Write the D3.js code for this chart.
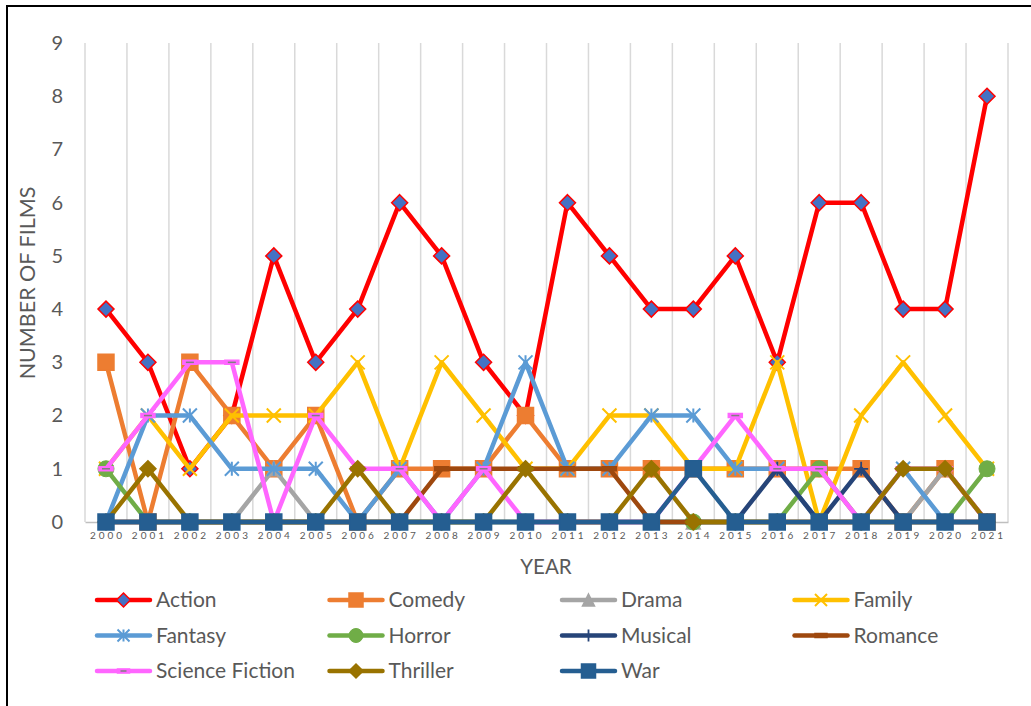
<!DOCTYPE html>
<html>
<head>
<meta charset="utf-8">
<script src="https://cdn.jsdelivr.net/npm/d3@7"></script>
<style>
  body { margin: 0; background: #fff; }
  text { font-family: Lato, "Open Sans", sans-serif; fill: #595959; }
</style>
</head>
<body>
<div id="chart"></div>
<script>
const W = 1031, H = 706;

// data
const years = d3.range(2000, 2022).map(String);
const yTicks = [0, 1, 2, 3, 4, 5, 6, 7, 8, 9];
const action   = [4,3,1,2,5,3,4,6,5,3,2,6,5,4,4,5,3,6,6,4,4,8];
const comedy   = [3,0,3,2,1,2,0,1,1,1,2,1,1,1,1,1,1,1,1,0,1,0];
const drama    = [0,0,0,0,1,0,0,0,0,0,0,0,0,0,0,0,0,0,0,0,1,0];
const family   = [1,2,1,2,2,2,3,1,3,2,1,1,2,2,1,1,3,0,2,3,2,1];
const fantasy  = [0,2,2,1,1,1,0,1,0,1,3,1,1,2,2,1,1,0,0,1,0,0];
const horror   = [1,0,0,0,0,0,0,0,0,0,0,0,0,0,0,0,0,1,0,0,0,1];
const musical  = [0,0,0,0,0,0,0,0,0,0,0,0,0,0,0,0,1,0,1,0,0,0];
const romance  = [0,0,0,0,0,0,0,0,1,1,1,1,1,0,0,0,0,0,0,0,0,0];
const scifi    = [1,2,3,3,0,2,1,1,0,1,0,0,0,0,1,2,1,1,0,1,1,0];
const thriller = [0,1,0,0,0,0,1,0,0,0,1,0,0,1,0,0,0,0,0,1,1,0];
const war      = [0,0,0,0,0,0,0,0,0,0,0,0,0,0,1,0,0,0,0,0,0,0];

const series = [
  { name: "Action", values: action, color: "#FF0000", mark: "diamond", fill: "#4472C4" },
  { name: "Comedy", values: comedy, color: "#ED7D31", mark: "square" },
  { name: "Drama", values: drama, color: "#A5A5A5", mark: "triangle" },
  { name: "Family", values: family, color: "#FFC000", mark: "x" },
  { name: "Fantasy", values: fantasy, color: "#5B9BD5", mark: "star" },
  { name: "Horror", values: horror, color: "#70AD47", mark: "circle" },
  { name: "Musical", values: musical, color: "#264478", mark: "plus" },
  { name: "Romance", values: romance, color: "#9E480E", mark: "dash" },
  { name: "Science Fiction", values: scifi, color: "#FF66FF", mark: "dash", inner: "#7F7F7F" },
  { name: "Thriller", values: thriller, color: "#997300", mark: "diamond" },
  { name: "War", values: war, color: "#255E91", mark: "square" }
];

const svg = d3.select("#chart").append("svg")
  .attr("width", W).attr("height", H);

// chart frame
svg.append("rect")
  .attr("x", 7).attr("y", 6).attr("width", W + 20).attr("height", H + 20)
  .attr("fill", "#fff").attr("stroke", "#000").attr("stroke-width", 2);

const x = d3.scaleBand().domain(years).range([85, 1008]).padding(0);
const y = d3.scaleLinear().domain([0, 9]).range([522, 43]);
const cx = d => x(d) + x.bandwidth() / 2;

// vertical gridlines on category boundaries
svg.append("g").selectAll("line")
  .data(years.concat(["end"]))
  .join("line")
  .attr("x1", (d, i) => i < years.length ? x(d) : x.range()[1])
  .attr("x2", (d, i) => i < years.length ? x(d) : x.range()[1])
  .attr("y1", y(9)).attr("y2", y(0))
  .attr("stroke", "#D9D9D9").attr("stroke-width", 1.5);

// x axis
const xAxis = svg.append("g")
  .attr("transform", "translate(0," + y(0) + ")")
  .call(d3.axisBottom(x).tickSize(0).tickPadding(10));
xAxis.select(".domain").attr("stroke", "#BFBFBF").attr("stroke-width", 1.5);
xAxis.selectAll("text")
  .style("font-size", "10px").style("letter-spacing", "3px")
  .attr("dx", "1.5px").attr("fill", "#595959");

// y axis labels
const yAxis = svg.append("g")
  .attr("transform", "translate(63,0)")
  .call(d3.axisLeft(y).tickValues(yTicks).tickSize(0).tickPadding(0));
yAxis.select(".domain").remove();
yAxis.selectAll("text").style("font-size", "20px").attr("fill", "#595959");

svg.append("text")
  .attr("transform", "translate(35,283) rotate(-90)")
  .attr("text-anchor", "middle")
  .style("font-size", "21.5px")
  .text("NUMBER OF FILMS");

svg.append("text")
  .attr("x", 546).attr("y", 574)
  .attr("text-anchor", "middle")
  .style("font-size", "20.5px")
  .text("YEAR");

// marker shapes
function markerPath(type, s) {
  const h = s / 2;
  switch (type) {
    case "diamond": return `M0,${-h-1}L${h+1},0L0,${h+1}L${-h-1},0Z`;
    case "square": return `M${-h},${-h}H${h}V${h}H${-h}Z`;
    case "triangle": return `M0,${-h}L${h},${h}L${-h},${h}Z`;
    case "x": return `M${-h},${-h}L${h},${h}M${h},${-h}L${-h},${h}`;
    case "star": return `M${-h},${-h}L${h},${h}M${h},${-h}L${-h},${h}M0,${-h}V${h}`;
    case "plus": return `M0,${-h}V${h}M${-h},0H${h}`;
    case "dash": return `M${-h},-2H${h}V2H${-h}Z`;
    default: return "";
  }
}
function drawMarker(g, s, type, size) {
  const open = type === "x" || type === "star" || type === "plus";
  if (type === "circle") {
    g.append("circle").attr("r", size / 2)
      .attr("fill", s.color).attr("stroke", s.color).attr("stroke-width", 1);
    return;
  }
  const p = g.append("path").attr("d", markerPath(type, size));
  if (open) {
    p.attr("fill", "none").attr("stroke", s.color)
      .attr("stroke-width", type === "plus" ? 1.8 : 2);
  } else if (type === "dash") {
    p.attr("fill", s.color).attr("stroke", s.color).attr("stroke-width", 1.5);
    if (s.inner) {
      g.append("path").attr("d", "M" + (-size / 2 + 3) + ",0H" + (size / 2 - 3))
        .attr("stroke", s.inner).attr("stroke-width", 1.5);
    }
  } else {
    p.attr("fill", s.fill || s.color).attr("stroke", s.color).attr("stroke-width", 1.5);
  }
}
const sizes = { diamond: 14, square: 16, triangle: 14, x: 14, star: 14, circle: 16, plus: 14, dash: 14 };

const line = d3.line()
  .x((d, i) => cx(years[i]))
  .y(d => y(d));

series.forEach(s => {
  const g = svg.append("g");
  g.append("path")
    .datum(s.values)
    .attr("d", line)
    .attr("fill", "none")
    .attr("stroke", s.color)
    .attr("stroke-width", 4.5)
    .attr("stroke-linejoin", "round");
  g.selectAll("g.m")
    .data(s.values)
    .join("g")
    .attr("class", "m")
    .attr("transform", (d, i) => "translate(" + cx(years[i]) + "," + y(d) + ")")
    .each(function () { drawMarker(d3.select(this), s, s.mark, sizes[s.mark]); });
});

// legend
const legend = svg.append("g");
series.forEach((s, i) => {
  const col = i % 4, row = Math.floor(i / 4);
  const lx = 97 + col * 232.5, ly = 600 + row * 35.5;
  const g = legend.append("g").attr("transform", "translate(" + lx + "," + ly + ")");
  g.append("line").attr("x1", 0).attr("x2", 53).attr("y1", 0).attr("y2", 0)
    .attr("stroke", s.color).attr("stroke-width", 4.5).attr("stroke-linecap", "round");
  const m = g.append("g").attr("transform", "translate(26.5,0)");
  drawMarker(m, s, s.mark, s.mark === "diamond" ? 12 : sizes[s.mark] - 2);
  g.append("text").attr("x", 59).attr("y", 0).attr("dy", "0.35em")
    .style("font-size", "21px").text(s.name);
});
</script>
</body>
</html>
